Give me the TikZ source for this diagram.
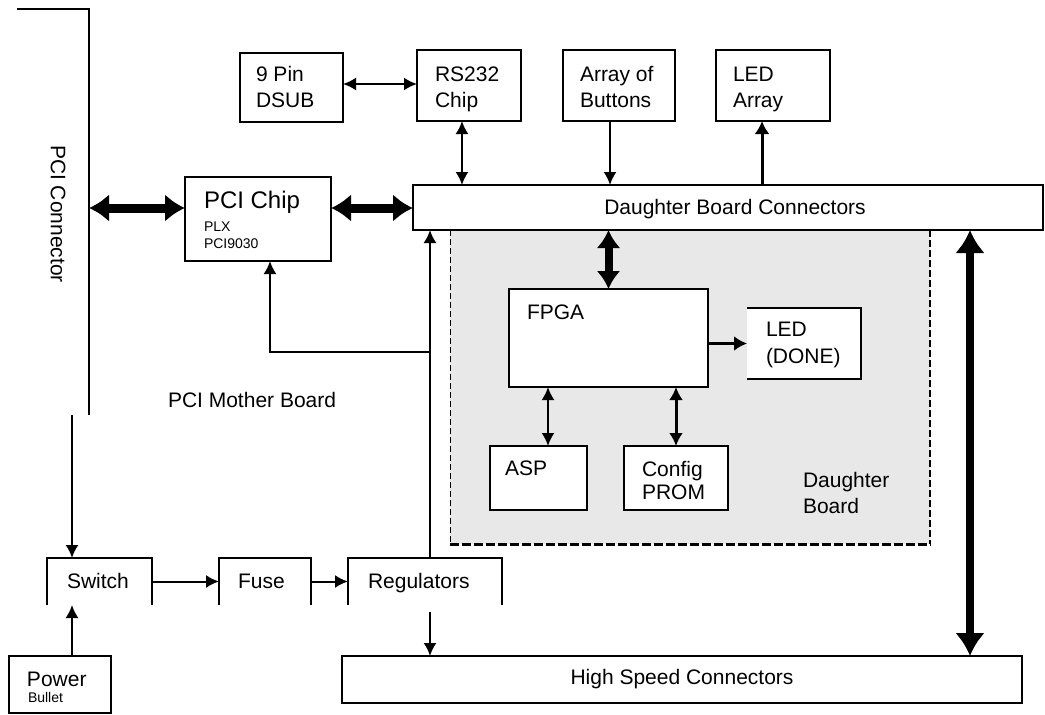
\documentclass[tikz,border=0pt]{standalone}
\usepackage{fontspec}
\setmainfont{Liberation Sans}
\usetikzlibrary{arrows.meta}
\begin{document}
\begin{tikzpicture}[x=1pt,y=-1pt,
  every node/.style={inner sep=0pt,outer sep=0pt},
  box/.style={draw,line width=1.4pt,fill=white,anchor=north west},
  openbox/.style={anchor=north west},
  t/.style={font=\fontsize{21}{26}\selectfont,anchor=base west},
  ts/.style={font=\fontsize{14}{16}\selectfont,anchor=base west},
  athin/.style={line width=2pt,-{Latex[length=13pt,width=13pt]}},
  athinb/.style={line width=2pt,{Latex[length=13pt,width=13pt]}-{Latex[length=13pt,width=13pt]}},
  amed/.style={line width=3pt,-{Latex[length=13pt,width=15pt]}},
  amedb/.style={line width=3pt,{Latex[length=13pt,width=14pt]}-{Latex[length=13pt,width=14pt]}},
  athick/.style={line width=9pt,{Latex[length=20pt,width=28pt]}-{Latex[length=20pt,width=28pt]}},
  athicks/.style={line width=8pt,{Latex[length=18pt,width=24pt]}-{Latex[length=18pt,width=24pt]}},
  athickv/.style={line width=8pt,{Latex[length=23pt,width=30pt]}-{Latex[length=23pt,width=30pt]}},
  edge3/.style={line width=1.4pt},
]
\useasboundingbox (0,0) rectangle (1045,715);

% daughter board region
\fill[gray!18] (450,230) rectangle (930,544);
\draw[line width=1pt,dash pattern=on 6pt off 3pt] (450,230) -- (450,544);
\draw[line width=1.8pt,dash pattern=on 7pt off 3pt] (930,230) -- (930,544);
\draw[line width=3pt,dash pattern=on 9pt off 3pt] (450,544) -- (931,544);

% PCI connector
\draw[edge3] (17,9) -- (89,9) -- (89,415);
\coordinate (pcic) at (89,208);
\node[font=\fontsize{21}{26}\selectfont,rotate=-90,anchor=center] (pcit) at (58,214) {PCI Connector};

% coordinates for connector positions
\coordinate (y84) at (0,84);
\coordinate (x462) at (462,0);
\coordinate (x610) at (610,0);
\coordinate (x762) at (762,0);
\coordinate (x548) at (548,0);
\coordinate (x430) at (430,0);
\coordinate (x270) at (270,0);
\coordinate (x970) at (970,0);
\coordinate (x72) at (72,0);
\coordinate (br) at (430,352);
\coordinate (regb) at (430,612);
\coordinate (pcb) at (72,415);

% boxes
\node[box,minimum width=103pt,minimum height=69pt] (dsub) at (240,53) {};
\node[box,minimum width=104pt,minimum height=71pt] (rs) at (417,50) {};
\node[box,minimum width=112pt,minimum height=71pt] (btn) at (563,50) {};
\node[box,minimum width=114pt,minimum height=71pt] (leda) at (716,50) {};
\node[box,minimum width=630pt,minimum height=45pt] (dbc) at (413,185) {};
\node[box,minimum width=146pt,minimum height=84pt] (pci) at (185,177) {};
\node[box,minimum width=199pt,minimum height=98pt] (fpga) at (509,289) {};
\node[anchor=north west,fill=white,minimum width=114pt,minimum height=71pt] (ledd) at (747,308) {};
\draw[edge3] (ledd.north west) -- (ledd.north east) -- (ledd.south east) -- (ledd.south west);
\node[box,minimum width=97pt,minimum height=64pt] (asp) at (490,446) {};
\node[box,minimum width=104pt,minimum height=64pt] (cfg) at (624,446) {};
\node[box,minimum width=680pt,minimum height=47pt] (hs) at (342,656) {};
\node[box,minimum width=102pt,minimum height=57pt] (pwr) at (9,656) {};

% open boxes
\node[openbox,minimum width=105pt,minimum height=47pt] (sw) at (47,558) {};
\node[openbox,minimum width=92pt,minimum height=47pt] (fuse) at (219,558) {};
\node[openbox,minimum width=154pt,minimum height=47pt] (reg) at (348,558) {};
\draw[edge3] (sw.south west) -- (sw.north west) -- (sw.north east) -- (sw.south east);
\draw[edge3] (fuse.south west) -- (fuse.north west) -- (fuse.north east) -- (fuse.south east);
\draw[edge3] (reg.south west) -- (reg.north west) -- (reg.north east) -- (reg.south east);

% texts
\node[t] (tdsub1) at (256,81) {9 Pin};
\node[t] (tdsub2) at (256,107) {DSUB};
\node[t] (trs1) at (435,81) {RS232};
\node[t] (trs2) at (435,107) {Chip};
\node[t] (tbtn1) at (580,81) {Array of};
\node[t] (tbtn2) at (580,107) {Buttons};
\node[t] (tled1) at (733,81) {LED};
\node[t] (tled2) at (733,107) {Array};
\node[font=\fontsize{21}{26}\selectfont,anchor=base] (tdbc) at (735,214) {Daughter Board Connectors};
\node[font=\fontsize{24}{28}\selectfont,anchor=base west] (tpci1) at (204,208) {PCI Chip};
\node[ts] (tpci2) at (204,231) {PLX};
\node[ts] (tpci3) at (204,248) {PCI9030};
\node[t] (tmb) at (168,407) {PCI Mother Board};
\node[t] (tfpga) at (527,319) {FPGA};
\node[t] (tledd1) at (766,336) {LED};
\node[t] (tledd2) at (766,363) {(DONE)};
\node[t] (tasp) at (505,475) {ASP};
\node[t] (tcfg1) at (642,476) {Config};
\node[t] (tcfg2) at (642,499) {PROM};
\node[t] (tdb1) at (803,487) {Daughter};
\node[t] (tdb2) at (803,513) {Board};
\node[t] (tsw) at (67,588) {Switch};
\node[t] (tfuse) at (238,588) {Fuse};
\node[t] (treg) at (368,588) {Regulators};
\node[t] (tpwr1) at (27,686) {Power};
\node[ts] (tpwr2) at (28,702) {Bullet};
\node[font=\fontsize{21}{26}\selectfont,anchor=base] (ths) at (682,684) {High Speed Connectors};

% connectors
\draw[athick] (pcic) -- (pci.west |- pcic);
\draw[athick] (pci.east |- pcic) -- (dbc.west |- pcic);
\draw[athinb] (dsub.east |- y84) -- (rs.west |- y84);
\draw[athinb] (rs.south -| x462) -- (dbc.north -| x462);
\draw[athin] (btn.south -| x610) -- (dbc.north -| x610);
\draw[amed] (dbc.north -| x762) -- (leda.south -| x762);
\draw[athicks] (fpga.north |- dbc.south) -- (fpga.north);
\draw[amed] (fpga.east |- ledd.west) -- (ledd.west);
\draw[athinb] (fpga.south -| x548) -- (asp.north -| x548);
\draw[amedb] (cfg.north |- fpga.south) -- (cfg.north);
\draw[athickv] (dbc.south -| x970) -- (hs.north -| x970);
\draw[athin] (reg.north -| x430) -- (dbc.south -| x430);
\draw[athin] (br) -| (pci.south -| x270);
\draw[athin] (regb) -- (hs.north -| x430);
\draw[athin] (sw.east) -- (fuse.west);
\draw[athin] (fuse.east) -- (reg.west);
\draw[athin] (pcb) -- (pcb |- sw.north);
\draw[athin] (pwr.north -| x72) -- (sw.south -| x72);
\end{tikzpicture}
\end{document}
